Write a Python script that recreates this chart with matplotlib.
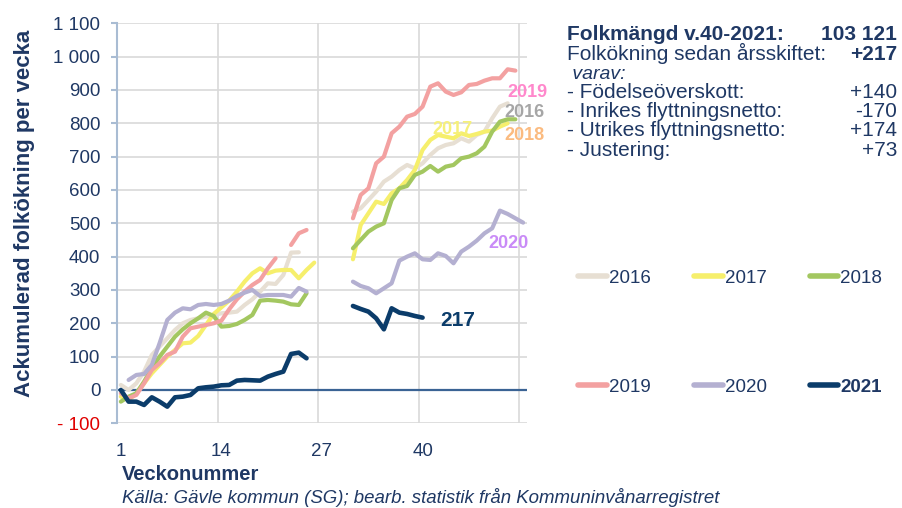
import numpy as np
import matplotlib
matplotlib.use("Agg")
import matplotlib.pyplot as plt
from matplotlib.lines import Line2D

plt.rcParams.update({
    'font.family': ['Liberation Sans', 'DejaVu Sans'],
    'font.size': 13,
})

# ---- data (cumulative population change per week) ----
weeks = np.arange(1, 54)
nan = np.nan

y2016 = [15, 0, 20, 55, 105, 130, 155, 180, 200, 210, 215, 220, 225, 230, 232, 235,
         255, 272, 295, 320, 318, 345, 412, 413, nan, nan, nan, nan, nan, nan,
         535, 545, 570, 595, 625, 640, 660, 675, 665, 680, 705, 725, 735, 740, 755,
         745, 765, 775, 815, 850, 860, nan, nan]
y2017 = [-20, -30, -10, 20, 50, 75, 100, 120, 140, 142, 162, 195, 228, 248, 268, 295,
         325, 350, 365, 350, 358, 360, 360, 335, 360, 382, nan, nan, nan, nan,
         392, 495, 530, 565, 558, 590, 605, 630, 660, 720, 750, 765, 760, 755, 770,
         762, 768, 775, 778, 790, 800, nan, nan]
y2018 = [-35, -20, -10, 25, 65, 100, 130, 160, 182, 200, 215, 232, 222, 190, 192, 198,
         210, 225, 268, 270, 268, 265, 257, 255, 290, nan, nan, nan, nan, nan,
         425, 450, 475, 490, 500, 570, 605, 612, 645, 655, 672, 655, 670, 675, 695,
         700, 710, 730, 775, 805, 812, 812, nan]
y2019 = [-10, -25, -15, 20, 60, 80, 105, 115, 160, 185, 190, 195, 200, 208, 242, 272,
         295, 315, 330, 365, 395, nan, 435, 470, 480, nan, nan, nan, nan, nan,
         515, 585, 605, 680, 700, 770, 790, 820, 828, 850, 910, 920, 895, 885, 893,
         915, 918, 928, 935, 935, 962, 958, nan]
y2020 = [nan, 30, 45, 48, 75, 140, 210, 232, 245, 242, 255, 258, 255, 258, 268, 282,
         292, 300, 282, 285, 285, 285, 280, 306, 295, nan, nan, nan, nan, nan,
         325, 312, 305, 290, 305, 320, 388, 400, 410, 392, 390, 410, 402, 380, 415,
         430, 448, 470, 485, 538, 528, 515, 502]
y2021 = [0, -35, -35, -45, -22, -35, -50, -22, -20, -15, 5, 8, 10, 14, 15, 28,
         30, 29, 28, 40, 48, 55, 108, 112, 95, nan, nan, nan, nan, nan,
         252, 243, 235, 215, 182, 245, 232, 228, 222, 217, nan, nan, nan,
         nan, nan, nan, nan, nan, nan, nan, nan, nan, nan]

years = ['2016', '2017', '2018', '2019', '2020', '2021']
series = [y2016, y2017, y2018, y2019, y2020, y2021]
colors = ['#e7dfd3', '#f6ef6c', '#a3c760', '#f3a1a1', '#b4b0d1', '#0b3c6a']

x_ticks = [1, 14, 27, 40]
y_ticks = list(range(-100, 1101, 100))

info_rows = [
    ("Folkmängd v.40-2021:", "103 121", 'bold', 'normal'),
    ("Folkökning sedan årsskiftet:", "+217", 'normal', 'normal'),
    (" varav:", "", 'normal', 'italic'),
    ("- Födelseöverskott:", "+140", 'normal', 'normal'),
    ("- Inrikes flyttningsnetto:", "-170", 'normal', 'normal'),
    ("- Utrikes flyttningsnetto:", "+174", 'normal', 'normal'),
    ("- Justering:", "+73", 'normal', 'normal'),
]

navy = '#1f3864'
W, H = 902, 508

fig = plt.figure(figsize=(W / 100, H / 100), dpi=100)
ax = fig.add_axes([117 / W, 1 - 423.3 / H, 410 / W, 400 / H])

for yr, vals, c in zip(years, series, colors):
    lw = 3.3 if yr == '2021' else 3.0
    ax.plot(weeks, vals, color=c, lw=lw, zorder=4 if yr == '2021' else 3,
            solid_capstyle='round', solid_joinstyle='round')

ax.axhline(0, color='#3a6394', lw=1.6, zorder=2)

ax.set_xlim(0.5, 53.5)
ax.set_ylim(-100, 1100)
ax.set_xticks(x_ticks)
ax.set_xticks([13.5, 26.5, 39.5, 52.5], minor=True)
ax.grid(True, which='minor', axis='x', color='#d9d9d9', lw=1.2)
ax.grid(True, which='major', axis='y', color='#d9d9d9', lw=1.2)
ax.set_axisbelow(True)

ylabels = []
for v in y_ticks:
    if v < 0:
        ylabels.append(f"- {abs(v)}")
    else:
        ylabels.append(f"{v:,}".replace(",", " "))
ax.set_yticks(y_ticks, ylabels)
for lab in ax.get_yticklabels():
    lab.set_color('#e00000' if lab.get_text().startswith('-') else navy)

ax.tick_params(axis='y', length=4, width=1.5, color='#a9bcd3', pad=8,
               labelsize=13.5)
ax.tick_params(axis='x', which='both', length=0, pad=14, labelsize=13.5,
               labelcolor=navy)
for s in ['top', 'right', 'bottom']:
    ax.spines[s].set_visible(False)
ax.spines['left'].set_color('#a9bcd3')
ax.spines['left'].set_linewidth(1.5)

# labels on the series
ax.text(56.2, 880, "2019", color='#ff88cc', fontsize=13, weight='bold', ha='right')
ax.text(55.8, 820, "2016", color='#a6a6a6', fontsize=13, weight='bold', ha='right')
ax.text(55.8, 751, "2018", color='#fbbb80', fontsize=13, weight='bold', ha='right')
ax.text(41.3, 769, "2017", color='#f6f07a', fontsize=13, weight='bold', ha='left')
ax.text(48.5, 427, "2020", color='#c98bf7', fontsize=13, weight='bold', ha='left')
ax.text(42.25, 193, "217", color='#0b3c6a', fontsize=15, weight='bold', ha='left')

# axis titles and source
fig.text(25 / W, 1 - 213 / H, "Ackumulerad folkökning per vecka", rotation=90,
         ha='center', va='center', fontsize=16, weight='bold', color=navy)
fig.text(122 / W, 1 - 480 / H, "Veckonummer", fontsize=14.5, weight='bold',
         color=navy, va='baseline')
fig.text(122 / W, 1 - 503 / H,
         "Källa: Gävle kommun (SG); bearb. statistik från Kommuninvånarregistret",
         fontsize=13.4, style='italic', color=navy, va='baseline')

# info block
baselines = [40, 60, 79, 98, 117, 136, 156]
for (left, right, wt, st), yb in zip(info_rows, baselines):
    fs = 14 if st == 'italic' else 15
    fig.text(567 / W, 1 - yb / H, left, fontsize=fs, weight=wt, style=st,
             color=navy, va='baseline')
    if right:
        fig.text(897 / W, 1 - yb / H, right, fontsize=15, ha='right',
                 weight='bold' if right in ("103 121", "+217") else 'normal',
                 color=navy, va='baseline')

# legend (3 x 2)
col_x = [(578, 607), (694, 723), (810, 838)]
row_y = [276, 385]
for i, (yr, c) in enumerate(zip(years, colors)):
    x0, x1 = col_x[i % 3]
    yy = row_y[i // 3]
    fig.add_artist(Line2D([x0 / W, x1 / W], [1 - yy / H, 1 - yy / H],
                          transform=fig.transFigure, color=c, lw=4,
                          solid_capstyle='round'))
    fig.text((x1 + 2) / W, 1 - (yy + 7) / H, yr, fontsize=13.5, color=navy,
             va='baseline', weight='bold' if yr == '2021' else 'normal')

fig.savefig("out.png", dpi=100)
